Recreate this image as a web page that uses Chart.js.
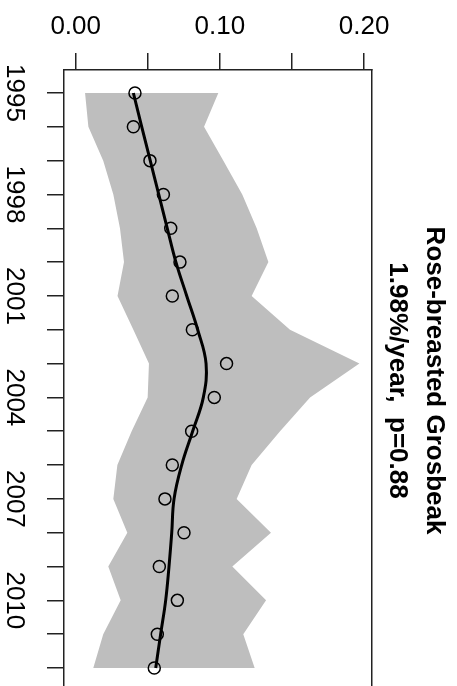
<!DOCTYPE html>
<html><head><meta charset="utf-8">
<script src="https://cdn.jsdelivr.net/npm/chart.js@4/dist/chart.umd.min.js"></script>
<style>
html,body{margin:0;padding:0;background:#fff;overflow:hidden;}
#wrap{position:relative;width:457px;height:700px;}
</style></head><body>
<div id="wrap"><canvas id="c"></canvas></div>
<script>
const years = [1995,1996,1997,1998,1999,2000,2001,2002,2003,2004,2005,2006,2007,2008,2009,2010,2011,2012];
const indexValues = [0.0411,0.0400,0.0515,0.0608,0.0659,0.0723,0.0670,0.0809,0.1046,0.0961,0.0804,0.0670,0.0619,0.0751,0.0580,0.0705,0.0566,0.0545];
const trendValues = [0.0400,0.0458,0.0517,0.0576,0.0635,0.0695,0.0770,0.0846,0.0904,0.0885,0.0811,0.0735,0.0682,0.0666,0.0647,0.0624,0.0589,0.0555];
const lowerCI = [0.0065,0.0088,0.0191,0.0261,0.0307,0.0335,0.0290,0.0400,0.0508,0.0499,0.0388,0.0289,0.0261,0.0358,0.0226,0.0312,0.0191,0.0122];
const upperCI = [0.0989,0.0890,0.1024,0.1155,0.1255,0.1336,0.1220,0.1486,0.1967,0.1625,0.1417,0.1220,0.1116,0.1354,0.1086,0.1320,0.1162,0.1241];
const valueTicks = [0, 0.05, 0.10, 0.15, 0.20];
const valueTickLabels = ['0.00', '', '0.10', '', '0.20'];
const yearTickLabels = {1995:'1995', 1998:'1998', 2001:'2001', 2004:'2004', 2007:'2007', 2010:'2010'};
const titleLines = ['Rose-breasted Grosbeak', '1.98%/year,  p=0.88'];

const pts = vals => vals.map((v, i) => ({x: v, y: years[i]}));
Chart.defaults.font.family = "'Liberation Sans', Arial, sans-serif";
const axisColor = '#222';

new Chart(document.getElementById('c'), {
  type: 'line',
  data: {
    datasets: [
      {data: pts(lowerCI), xAxisID: 'x', yAxisID: 'y', borderWidth: 0, pointRadius: 0, fill: false, tension: 0, order: 4},
      {data: pts(upperCI), xAxisID: 'x', yAxisID: 'y', borderWidth: 0, pointRadius: 0, fill: '-1', backgroundColor: '#BEBEBE', tension: 0, order: 3},
      {data: pts(indexValues), xAxisID: 'x', yAxisID: 'y', showLine: false, pointRadius: 6, pointBorderWidth: 1.5, pointBorderColor: '#000', pointBackgroundColor: 'rgba(0,0,0,0)', fill: false, order: 2},
      {data: pts(trendValues), xAxisID: 'x', yAxisID: 'y', borderColor: '#000', borderWidth: 3, pointRadius: 0, tension: 0.4, fill: false, order: 1}
    ]
  },
  options: {
    responsive: true, maintainAspectRatio: false, animation: false,
    indexAxis: 'y',
    layout: {padding: {top: 0, left: 0, right: 0, bottom: 9}},
    plugins: {
      legend: {display: false}, tooltip: {enabled: false},
      title: {display: true, position: 'right', fullSize: false, text: titleLines, color: '#000',
        font: {size: 26, weight: 'bold', lineHeight: 37/26}, padding: {top: 4, bottom: 7.5}}
    },
    scales: {
      x: {
        type: 'linear', position: 'top', min: -0.0081, max: 0.2051,
        afterBuildTicks: s => { s.ticks = valueTicks.map(v => ({value: v})); },
        afterFit: s => { s.height = 70; },
        ticks: {callback: (v, i) => valueTickLabels[i], font: {size: 26}, color: '#000', padding: 11, minRotation: 0, maxRotation: 0, autoSkip: false},
        grid: {drawOnChartArea: false, drawTicks: true, tickLength: 17, color: axisColor, lineWidth: 1.5},
        border: {display: true, color: axisColor, width: 1.5}
      },
      y: {
        type: 'linear', position: 'left', reverse: true, min: 1994.32, max: 2012.68,
        afterBuildTicks: s => { s.ticks = years.map(v => ({value: v})); },
        afterFit: s => { s.width = 64; s.paddingTop = 0; s.paddingBottom = 0; },
        ticks: {callback: v => yearTickLabels[v] || '', minRotation: -90, maxRotation: -90, crossAlign: 'center', font: {size: 26}, color: '#000', padding: 4, autoSkip: false},
        grid: {drawOnChartArea: false, drawTicks: true, tickLength: 17, color: axisColor, lineWidth: 1.5},
        border: {display: true, color: axisColor, width: 1.5}
      },
      y2: {
        type: 'linear', position: 'right', display: true,
        afterFit: s => { s.width = 0; },
        ticks: {display: false},
        grid: {display: false, drawTicks: false},
        border: {display: true, color: axisColor, width: 1.5}
      }
    }
  }
});
</script>
</body></html>
